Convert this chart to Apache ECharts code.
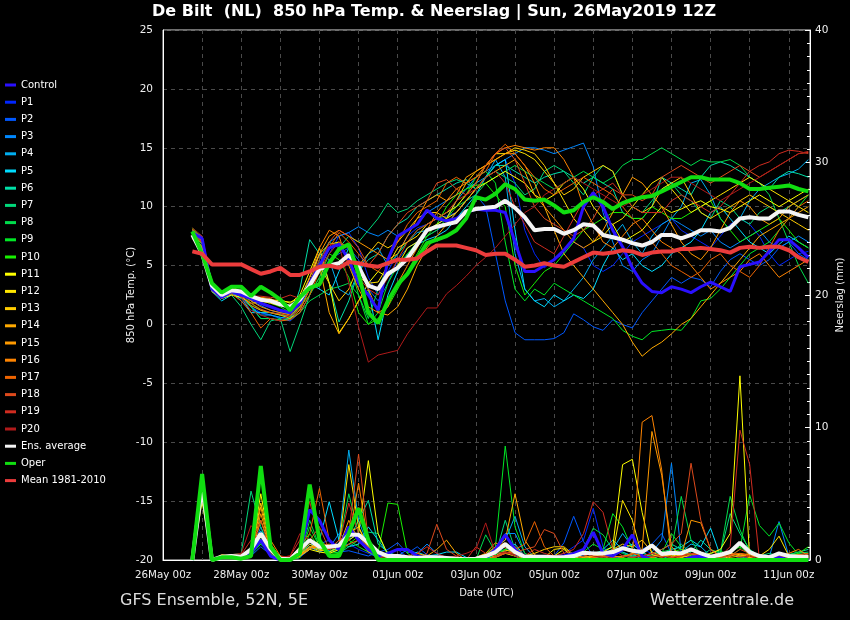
<!DOCTYPE html>
<html><head><meta charset="utf-8">
<script src="https://cdn.jsdelivr.net/npm/echarts/dist/echarts.min.js"></script>
<style>html,body{margin:0;padding:0;background:#000;overflow:hidden;}#c{width:850px;height:620px;}</style>
</head><body><div id="c"></div>
<script>
const FONT = "'DejaVu Sans',sans-serif";
// forecast lead times: first point 26May 18z (hours since 26May 00z), every 6 h, 64 points
const firstHour = 18, stepHours = 6, nPoints = 64;
const dateLabels = ['26May 00z','28May 00z','30May 00z','01Jun 00z','03Jun 00z','05Jun 00z','07Jun 00z','09Jun 00z','11Jun 00z'];

// ---- 850 hPa temperature (°C) ----
const tempControl = [7.8,7.3,3.0,2.3,2.8,2.5,2.2,1.8, 1.5,1.2,1.0,1.8,3.5,5.0,6.5,6.8, 5.5,3.5,2.5,1.2,5.5,7.5,8.0,8.5, 9.7,9.0,8.8,9.0,9.5,9.8,9.7,9.7, 9.5,7.0,4.5,4.5,5.0,5.5,6.3,7.3, 10.0,11.2,10.0,8.0,6.6,4.8,3.5,2.8, 2.7,3.2,3.0,2.7,3.2,3.6,3.2,2.8, 4.9,5.1,5.3,6.2,7.2,7.2,6.5,5.7];
const tempP1 = [7.6,6.8,3.0,2.2,2.6,2.3,1.5,1.0, 0.8,0.6,0.5,1.5,3.0,4.5,6.0,7.5, 7.8,6.5,4.0,2.5,4.5,6.0,7.5,8.2, 8.5,9.0,9.2,9.5,10.5,11.5,12.5,13.5, 14.0,12.0,8.0,6.0,4.8,5.5,6.0,7.0, 6.5,5.0,4.5,5.0,6.0,7.0,7.5,8.0, 8.5,9.0,8.0,7.5,7.0,6.5,7.5,8.5, 9.0,8.5,7.5,6.0,5.0,5.5,6.0,6.2];
const tempP2 = [7.8,7.4,3.2,2.5,2.8,2.0,1.2,1.0, 0.8,0.5,0.3,1.0,2.5,4.0,5.5,6.0, 6.5,5.5,3.0,2.0,3.5,5.5,6.5,7.0, 7.5,8.0,8.5,9.5,10.5,11.0,10.0,6.0, 2.0,-0.7,-1.3,-1.3,-1.3,-1.2,-0.7,0.9, 0.4,-0.2,-0.5,0.4,0.0,-0.3,1.0,2.0, 3.0,4.0,3.5,4.0,3.8,3.2,4.5,5.5, 6.0,5.5,5.0,5.5,6.5,7.0,6.0,5.5];
const tempP3 = [8.0,7.5,3.3,2.6,3.0,2.8,2.0,1.6, 1.2,1.0,0.9,2.0,3.5,5.5,7.0,7.5, 7.8,8.3,7.8,7.5,8.0,7.5,8.0,8.5, 9.5,10.0,10.5,11.0,11.5,12.5,13.0,13.5, 14.0,14.5,15.0,15.0,14.8,14.5,14.8,15.1, 15.4,13.4,9.5,7.0,5.0,4.5,5.5,6.0, 7.5,9.0,8.5,8.0,7.5,8.0,7.0,6.5, 7.0,7.5,8.0,7.0,6.5,7.0,7.5,7.0];
const tempP4 = [7.7,7.0,3.0,2.4,2.8,2.5,1.5,0.8, 0.8,0.6,0.5,1.8,4.0,6.0,5.5,3.0, 2.5,4.5,6.0,6.5,5.0,6.0,7.0,7.8, 8.0,8.5,9.0,10.5,11.5,12.0,12.5,14.0, 12.5,6.0,3.0,2.0,2.2,1.5,2.0,3.0, 4.0,5.5,6.5,7.5,8.5,7.0,6.0,7.5, 8.5,9.0,10.0,12.0,12.3,11.0,9.0,8.0, 9.0,10.5,11.5,12.0,12.5,12.8,13.2,14.0];
const tempP5 = [7.5,6.5,2.8,2.0,2.5,2.3,1.0,1.0, 1.0,0.8,0.7,1.5,3.5,3.0,2.5,4.5, 6.5,5.0,3.0,-1.3,2.5,4.5,6.0,6.8, 7.2,7.5,8.0,9.0,10.0,11.0,12.5,13.5, 14.0,8.0,3.0,2.0,1.5,2.5,2.0,2.5, 2.2,3.0,5.0,6.5,5.5,6.0,5.0,4.5, 5.0,6.0,6.5,7.0,8.0,9.5,10.0,9.0, 8.0,7.0,6.5,6.0,6.8,7.5,7.0,6.5];
const tempP6 = [7.9,7.0,3.2,2.5,2.6,2.2,1.5,0.5, 0.5,0.3,0.5,3.0,7.2,6.0,3.5,0.2, 2.0,4.5,5.5,6.0,7.5,8.5,9.0,10.0, 10.5,11.0,11.5,12.0,12.3,11.5,12.5,13.5, 13.5,13.0,12.5,12.0,12.5,12.8,13.0,12.5, 12.0,12.5,12.0,11.5,9.5,9.0,9.0,10.0, 12.5,12.0,11.5,11.0,12.5,13.5,13.8,13.5, 13.0,12.5,12.0,11.5,12.5,13.0,12.8,12.5];
const tempP7 = [8.0,7.2,3.3,2.6,2.5,1.5,0.0,-1.3, 0.3,0.5,-2.3,0.0,2.5,5.5,7.0,6.5, 7.5,7.0,8.0,9.0,10.3,9.5,9.8,10.5, 11.0,11.5,12.0,12.3,12.0,11.5,12.5,13.0, 12.5,12.0,11.0,11.5,13.0,13.5,13.0,12.0, 11.0,12.5,13.5,13.0,11.0,10.0,9.5,10.5, 11.5,12.0,11.0,10.5,9.5,9.0,10.5,10.0, 9.0,8.5,9.5,10.0,9.5,10.0,10.5,11.0];
const tempP8 = [7.8,7.0,3.0,2.7,3.0,2.5,1.5,0.5, 0.5,0.4,0.5,1.0,2.0,2.5,3.0,3.2, 3.5,2.5,0.5,3.0,5.0,6.0,7.0,8.0, 8.5,9.0,9.5,10.0,10.5,11.0,12.0,12.5, 13.0,13.5,13.0,12.5,12.0,11.5,12.0,12.5, 13.0,12.5,12.0,12.5,13.5,14.0,14.0,14.5, 15.0,14.5,14.0,13.5,14.0,13.8,13.8,14.0, 13.5,12.5,12.0,11.0,9.0,7.0,5.0,3.5];
const tempP9 = [7.7,6.8,3.1,2.4,2.9,2.6,1.8,1.2, 1.0,0.8,0.6,1.5,3.0,5.0,6.5,7.0, 5.5,2.5,0.0,1.0,3.5,5.0,6.0,7.0, 7.5,8.0,9.0,10.0,11.0,12.5,13.0,12.0, 7.0,3.0,2.0,3.0,2.5,3.5,3.0,2.5, 2.0,1.5,1.0,0.5,-0.5,-1.0,-1.3,-0.6, -0.5,-0.4,-0.5,0.5,2.0,2.2,3.0,4.0, 5.0,6.0,6.5,7.0,8.0,9.0,10.0,11.0];
const tempP10 = [8.2,7.3,3.5,2.8,3.2,2.8,2.5,2.0, 1.8,1.5,1.0,1.5,2.5,4.0,6.0,5.5, 4.0,1.0,0.0,0.5,1.5,3.0,4.5,6.0, 7.5,8.5,10.0,11.0,11.5,11.8,12.0,11.0, 10.0,5.0,2.5,3.5,4.5,5.0,6.0,7.0, 8.0,8.5,9.0,9.5,9.5,9.0,9.0,10.0, 9.5,9.0,9.0,9.5,10.0,10.5,9.0,8.0, 7.0,7.5,8.0,8.5,9.0,8.0,7.0,6.5];
const tempP11 = [7.4,6.3,2.8,2.2,2.5,2.3,1.8,1.9, 2.0,2.1,1.8,2.5,4.5,6.5,3.5,-0.7, 0.5,2.0,3.5,4.5,4.0,5.0,6.5,7.0, 8.0,8.5,9.0,9.5,10.5,11.5,12.0,12.5, 13.0,12.5,12.0,11.0,10.5,11.0,12.0,12.5, 11.5,10.0,9.0,8.5,7.0,7.5,8.0,9.0, 10.0,9.5,9.8,10.2,10.5,10.0,9.8,9.5, 10.0,10.5,11.0,10.5,10.0,10.5,11.0,11.5];
const tempP12 = [7.6,6.6,3.2,2.5,2.9,2.6,2.0,2.2, 2.1,2.0,1.9,2.2,4.0,6.0,6.8,7.0, 6.5,4.0,3.5,3.6,5.0,6.5,7.0,7.5, 8.5,9.0,9.5,10.0,11.0,12.0,13.5,14.5, 14.5,14.8,14.5,14.0,13.0,12.0,10.5,9.0, 8.0,7.0,7.5,8.5,9.0,10.0,11.0,12.0, 12.5,11.5,10.5,9.5,10.0,10.5,11.0,11.5, 12.0,12.5,12.0,11.5,11.0,10.5,10.0,9.5];
const tempP13 = [7.3,6.2,2.9,2.3,2.7,2.4,2.2,2.0, 1.8,1.6,1.4,2.0,3.5,5.0,3.5,2.0, 3.0,5.0,6.0,7.0,6.5,7.0,8.0,9.0, 9.5,9.5,9.0,10.5,12.0,13.0,13.5,14.0, 14.5,15.0,14.8,14.5,13.5,12.0,11.0,11.5, 12.5,13.0,13.5,13.0,11.0,10.0,9.5,10.0, 11.5,12.0,12.5,11.0,9.5,9.0,9.5,10.0, 10.5,11.0,10.5,10.0,9.5,9.0,8.5,8.0];
const tempP14 = [7.5,6.5,3.0,2.4,3.1,2.5,1.6,1.2, 1.0,0.8,0.5,1.2,3.0,5.0,1.0,-0.8, 0.5,2.0,3.0,1.0,0.8,1.5,3.0,5.0, 6.5,7.5,8.5,9.5,10.5,11.5,12.5,13.0, 13.5,14.0,13.0,11.0,10.0,8.0,6.0,5.0, 4.0,3.0,2.0,1.0,0.0,-1.5,-2.7,-2.0, -1.5,-0.8,0.0,0.5,1.5,2.5,3.5,4.5, 5.5,6.5,7.5,8.0,8.5,9.0,9.5,10.0];
const tempP15 = [7.6,6.9,3.3,2.6,3.3,2.7,2.3,2.3, 2.2,1.8,1.5,2.0,3.5,6.0,7.5,8.0, 7.5,7.0,6.5,6.0,5.5,6.0,7.5,9.0, 10.5,11.0,10.5,11.0,12.5,13.0,13.5,14.0, 14.5,14.5,13.5,12.0,10.0,9.0,8.0,7.0, 6.5,7.0,8.0,9.5,11.0,12.5,12.0,11.0, 10.0,8.5,7.0,6.0,5.5,6.5,8.0,9.5, 10.5,10.0,9.0,8.5,9.0,10.0,10.5,11.0];
const tempP16 = [8.1,7.2,3.4,2.7,3.2,2.6,2.0,1.5, 1.2,1.0,0.8,1.5,4.0,6.5,8.0,7.5, 5.0,3.0,1.5,1.0,1.5,3.5,5.0,6.5, 8.0,9.5,10.5,11.5,12.0,12.5,13.5,14.5, 15.0,15.2,15.0,14.8,15.0,15.0,14.0,12.5, 10.0,8.5,7.0,6.5,7.5,8.5,9.0,8.0, 7.0,6.5,6.0,5.0,4.0,3.0,3.5,4.0, 4.5,5.5,6.0,5.0,4.0,4.5,5.0,5.5];
const tempP17 = [7.8,7.1,3.1,2.3,2.6,2.0,1.0,-0.3, 0.5,0.3,0.4,1.0,2.5,4.5,6.5,7.8, 7.0,6.0,5.0,4.5,5.5,7.0,8.5,9.5, 10.0,10.5,12.0,12.5,12.0,12.5,13.0,14.5, 15.3,14.5,13.5,12.5,11.5,11.0,11.5,12.0, 12.5,12.0,11.5,11.0,10.0,9.0,8.0,7.0, 6.0,5.0,4.5,4.0,4.5,5.5,6.0,5.0, 4.5,4.0,5.0,6.5,8.0,9.0,10.0,10.5];
const tempP18 = [8.0,7.4,3.2,2.4,2.8,2.4,1.8,1.3, 1.0,0.9,0.7,1.3,3.0,5.0,7.0,8.0, 7.5,6.5,5.0,6.0,7.5,8.5,9.5,10.0, 10.5,12.0,12.3,11.5,11.0,12.0,13.5,14.5, 15.0,14.0,12.0,10.0,9.0,8.5,8.0,7.5, 8.0,9.0,10.5,11.5,11.0,11.0,10.5,11.0, 12.5,13.0,13.5,13.0,12.5,12.0,12.5,13.0, 13.5,13.0,12.5,13.0,13.5,14.0,14.5,14.6];
const tempP19 = [7.7,7.0,3.1,2.5,3.0,2.7,2.4,2.4, 2.3,2.2,2.5,2.2,3.0,4.5,6.0,7.0, 6.5,4.0,3.0,2.5,4.0,5.5,7.0,8.0, 8.5,9.0,9.5,10.5,11.0,11.5,12.5,13.0, 12.0,10.0,8.5,7.0,6.5,6.0,7.5,9.0, 10.5,11.0,11.5,12.0,11.0,10.0,9.5,9.5, 9.5,10.5,11.0,10.5,10.0,9.5,10.0,11.0, 12.0,13.0,13.5,13.8,14.5,14.8,14.7,14.5];
const tempP20 = [8.2,7.5,3.4,2.6,2.9,2.3,1.2,0.8, 0.5,0.3,0.8,2.0,3.5,5.5,6.8,6.8, 3.5,-0.2,-3.2,-2.6,-2.4,-2.2,-0.8,0.3, 1.4,1.4,2.6,3.3,4.1,5.0,5.7,6.5, 7.5,8.5,9.5,10.0,11.0,11.5,12.0,12.5, 12.0,11.5,11.0,10.5,10.0,10.5,11.0,11.5, 12.0,12.5,12.5,12.0,11.5,11.0,10.5,11.0, 11.5,12.0,12.5,13.0,13.5,14.0,14.5,14.7];
const tempEnsAvg = [7.6,6.0,3.3,2.5,2.9,2.8,2.4,2.1, 2.0,1.7,1.5,2.1,3.3,4.7,5.0,5.2, 5.9,4.9,3.3,3.0,4.3,4.8,5.6,6.8, 8.0,8.3,8.5,8.7,9.6,9.8,9.9,10.0, 10.5,9.9,9.1,8.0,8.1,8.1,7.7,8.0, 8.5,8.4,7.6,7.4,7.2,6.9,6.7,7.0, 7.6,7.6,7.3,7.6,8.0,8.0,7.9,8.2, 9.0,9.1,9.0,9.0,9.6,9.6,9.3,9.1];
const tempOper = [7.9,6.0,3.5,2.7,3.2,3.2,2.4,3.2, 2.7,2.1,1.2,2.3,3.1,3.4,5.2,6.4, 6.8,4.3,1.0,0.1,2.0,3.4,4.3,5.6, 6.9,7.2,7.5,8.0,9.0,10.8,10.6,11.1, 11.9,11.5,10.6,10.5,10.6,10.1,9.5,9.7, 10.4,10.8,10.4,9.8,10.3,10.6,10.8,10.9, 11.3,11.7,12.1,12.5,12.5,12.3,12.3,12.3, 12.0,11.5,11.5,11.6,11.7,11.8,11.5,11.3];
const tempMean = [6.2,6.0,5.1,5.1,5.1,5.1,4.7,4.3, 4.5,4.8,4.2,4.2,4.5,4.9,5.0,4.8, 5.3,5.2,5.0,4.9,5.2,5.5,5.5,5.6, 6.2,6.7,6.7,6.7,6.5,6.3,5.9,6.0, 6.0,5.5,4.9,5.0,5.2,5.0,4.9,5.3, 5.7,6.1,6.0,6.1,6.3,6.2,5.9,6.1, 6.2,6.2,6.4,6.4,6.5,6.4,6.3,6.1, 6.5,6.6,6.5,6.6,6.6,6.3,5.7,5.3];

// ---- precipitation (mm / 6 h) ----
const rainControl = [0,5.5,0,0.2,0.3,0.1,0.5,1.5, 0.3,0,0,0.5,3.8,3.0,1.5,0.8, 2.5,1.5,0.8,0.3,0.5,0.8,0.8,0.3, 0.1,0,0,0,0,0,0.2,0.8, 1.9,0.8,0.2,0,0,0,0.3,0.5, 0.8,2.1,0.5,0.3,0.8,1.9,0.3,0, 0,0,0,0.2,0.3,0,0,0, 0,0,0,0,0.2,0,0,0.1];
const rainP1 = [0,5.8,0,0.3,0.2,0.2,0.6,1.2, 0.5,0,0,0.3,1.5,0.8,0.6,1.0, 1.2,0.8,0.5,0.2,0.4,0.8,0.2,0, 0,0,0,0,0,0,0.3,0.5, 1.0,0.4,0,0,0,0.2,0.5,1.0, 1.5,3.9,1.0,0.3,0,0.2,0.8,0.5, 0.3,0,0,0.2,0,0,0,0.3, 0.5,0,0,0,0,0,0.2,0];
const rainP2 = [0,5.0,0,0.2,0.4,0.2,0.3,1.0, 0.4,0,0,0.2,0.8,1.2,1.5,0.6, 0.7,0.5,0.3,0.6,0.8,1.3,0.5,1.0, 0.4,0,0,0,0,0,0,0.4, 1.2,0.6,0.2,0,0,0.3,1.3,3.3, 1.4,0.3,0,0.5,0.6,0.3,0.8,1.2, 2.0,0.5,0,0,0.2,0,0,0, 0.2,0.3,0,0,0,0,0,0];
const rainP3 = [0,5.5,0,0.1,0.3,0.2,0.5,2.5, 0.8,0.1,0,0.4,1.0,0.6,0.9,2.0, 1.5,2.0,0.6,0.2,0,0.3,0.8,0.5, 1.2,0.5,0,0,0,0,0,0.6, 2.0,2.0,0.5,0,0,0,0.2,0.4, 0.3,0.6,0.2,0,0.3,0.5,0,0.6, 1.5,7.3,0.5,0,0,0,0,0, 0,0,0,0.2,2.9,0.3,0,0];
const rainP4 = [0,5.2,0,0.2,0.3,0.3,0.4,2.2, 0.6,0,0,0.2,1.2,1.0,0.7,1.5, 8.3,3.0,1.0,0.3,0.5,0.2,0,0, 0,0,0,0,0,0.2,0.4,1.0, 1.5,3.3,1.0,0.2,0,0,0,0, 0.3,0.2,0.5,0.8,2.0,1.0,0.3,0, 0.5,0.3,0.6,1.2,1.0,0.3,0,0, 0,0,0,0,0.5,0.2,0,0];
const rainP5 = [0,5.6,0,0.3,0.2,0.1,0.3,1.8, 0.5,0,0,0.3,0.9,1.5,4.4,1.5, 1.0,1.2,2.5,1.5,0.5,0.3,0.2,0.6, 0.3,0.4,0.6,0.6,0.2,0,0,0.3, 0.8,1.2,0.3,0,0,0,0,0.2, 0.5,0.3,0.8,1.5,0.8,1.2,0.6,0.2, 0.4,0.8,1.0,1.5,1.0,2.4,0.3,0, 0.2,0,0,0,0.5,0.4,0,0];
const rainP6 = [0,5.9,0,0.2,0.2,0.3,0.8,1.5, 0.6,0,0,0.4,1.0,0.8,0.6,0.9, 1.5,3.0,4.5,1.2,0.6,0.3,0,0, 0,0,0,0,0,0,0.2,0.5, 0.6,0.3,0,0,0,0,0,0, 0,0.5,0.7,1.0,0.6,0.3,0.2,0.4, 0.8,1.2,0.8,0.6,1.5,0.8,0.3,0.5, 0.3,0,0,0,0.3,0.4,0.6,0.8];
const rainP7 = [0,6.1,0,0.2,0.4,0.5,5.2,2.5, 0.6,0.1,0,0.3,1.5,1.2,0.8,0.5, 1.0,1.5,2.1,2.0,0.3,0.2,0,0, 0,0,0,0,0,0,0,0.4, 3.0,0.8,0.2,0,0,0,0,0, 0,0.3,0.2,0,0,0.3,0.5,0.3, 0,0.5,1.2,0.5,0.3,0.8,0.5,3.5, 2.0,0.8,0.3,0.5,0.3,0.2,0.5,0.6];
const rainP8 = [0,5.7,0,0.3,0.3,0.2,0.6,1.3, 0.7,0.2,0,0.2,3.0,1.0,0.6,1.2, 5.0,2.0,0.8,0.3,0.2,0,0,0, 0,0,0,0,0,0,1.9,0.6, 0.8,1.0,0.3,0,0,0,0,0.3, 0.8,2.4,1.9,0.8,0.5,0.2,0,0.3, 0.6,0.8,4.8,1.5,0.4,0.2,0.5,4.8, 2.3,0.6,0.3,0.2,0.3,0.4,0.6,0.5];
const rainP9 = [0,6.2,0,0.2,0.3,0.2,0.4,1.2, 0.5,0,0,0.3,2.5,1.0,0.5,0.6, 1.5,1.0,0.6,0.2,0,0,0,0, 0,0,0,0,0,0,0.5,1.0, 8.6,2.5,0.5,0.2,0,0,0,0, 0.6,1.2,0.8,3.5,2.5,0.8,0.3,0.2, 0.5,2.0,1.0,0.3,0.3,0.5,0.7,0.3, 0.8,4.9,2.6,1.8,2.8,1.3,0.4,0.3];
const rainP10 = [0,6.4,0,0.3,0.2,0.2,0.5,1.6, 0.4,0,0,0.2,2.0,0.9,0.4,0.5, 1.2,1.8,1.0,0.6,4.3,4.2,0.5,0, 0,0,0,0,0,0,0.2,0.4, 0.8,0.5,0,0,0,0,0,0, 0,0.2,0.4,0.3,0.2,0,0,0.2, 0.4,0.6,0.8,0.3,0,0,0.2,0.6, 1.0,0.4,0.2,0,0.2,0.3,0.5,1.0];
const rainP11 = [0,4.4,0,0.2,0.3,0.3,0.5,5.0, 1.0,0.1,0,0.3,0.8,0.6,0.5,0.8, 1.5,2.0,7.5,2.0,0.4,0.2,0,0, 0,0,0,0,0,0,0,0.2, 0.5,0.3,0,0,0,0.3,0.8,0.2, 0,0.3,0.6,1.0,7.2,7.6,3.6,0.4, 0.2,0.5,0.3,0.2,0.3,0.5,0.8,2.0, 13.9,0,0.2,0.3,0.2,0,0,0.2];
const rainP12 = [0,4.8,0,0.3,0.2,0.2,0.4,3.0, 0.9,0.2,0,0.5,1.2,0.8,0.6,1.0, 7.2,2.5,1.0,0.5,0.3,0,0,0, 0,0,0,0,0,0,0,0.3, 0.6,0.5,0,0,0.2,0.8,0.9,0.3, 0,0.2,0.3,0.5,4.5,3.0,0.3,0.2, 0.3,0.4,0.2,0,0,0.2,0.3,0.5, 0.4,0.2,0.3,0.8,1.8,0.3,0,0];
const rainP13 = [0,5.0,0,0.4,0.3,0.2,0.6,4.3, 1.2,0.2,0,0.4,1.0,0.7,0.8,1.2, 2.0,2.5,0.8,0.4,0.2,0,0,0, 0,0,0,0,0,0,0,0.3, 0.7,0.8,0.3,0.5,0.8,1.0,1.0,0.4, 0.2,0.3,0.4,0.8,1.2,1.0,1.5,0.6, 0.3,0.2,0.4,0.5,0.3,0,0,0.3, 0.5,0.2,0,0,0,0.2,0.3,0.2];
const rainP14 = [0,5.3,0,0.3,0.4,0.3,0.5,4.0, 0.8,0.1,0,0.3,0.8,1.5,0.9,1.0, 3.0,1.5,0.6,0.4,0.3,0.2,0,0.5, 0.3,0.8,1.5,0.5,0,0,0.2,1.0, 1.5,5.0,1.5,0.4,0,0,0,0, 0.2,0.3,0.5,0.3,0.2,0.5,0.3,0.2, 0.5,0.3,0.2,0.4,0.3,0.2,0,0.2, 0.3,0.5,0.2,0,0,0,0.2,0.3];
const rainP15 = [0,5.1,0,0.2,0.3,0.2,0.4,3.5, 0.9,0.2,0,0.3,1.0,1.0,1.2,0.8, 2.5,1.8,0.9,0.3,0.2,0,0,0, 0,0,0,0,0,0.2,0.5,1.3, 0.9,1.0,0.3,0,0,0,0,0, 0.2,0.3,0.2,0.5,0.8,0.6,0.8,9.7, 6.4,1.0,0.3,3.0,2.8,0.8,0.3,0.5, 0.3,0.2,0,0,0.2,0.3,0.4,0.3];
const rainP16 = [0,5.4,0,0.3,0.2,0.2,0.5,2.0, 1.5,0.3,0,0.4,0.9,1.0,0.8,1.5, 1.5,5.8,1.2,0.5,0.2,0,0,0, 0,0,0,0,0,0,0.4,1.0, 1.3,0.6,0.2,0,0,0,0,0, 0,0.2,0.3,0.2,0.3,0.4,10.4,10.9, 6.8,0.2,0.3,0.5,0.4,0.3,0.2,0.3, 0.5,0.4,0.2,0.3,0.3,0.5,0.8,0.3];
const rainP17 = [0,5.8,0,0.2,0.3,0.3,0.6,1.5, 1.0,0.3,0.2,1.0,2.0,5.4,1.5,0.8, 1.2,1.5,1.0,0.4,0.2,0,0,0, 0,0,0,0,0,0,0,0.3, 0.5,0.8,1.2,2.9,1.0,0.3,0,0, 0,0.2,0.3,0,0.2,0.5,0.3,0.2, 0,0,0.3,0.5,0.3,0.2,0.3,0.4, 0.5,0.3,0.2,0,0,0.2,0.4,0.5];
const rainP18 = [0,6.0,0,0.3,0.3,0.2,0.8,3.0, 0.6,0.1,0,0.5,1.5,2.5,0.8,1.5, 2.0,8.0,1.5,0.5,0.3,0.2,0,0, 0.5,2.7,0.8,0.3,0,0,0,0.2, 0.5,0.6,0.8,1.0,2.3,2.0,0.5,0, 0.3,0.5,0.3,0.2,0,0.2,0.3,0.5, 0.8,1.2,2.0,7.3,3.0,0.8,0.2,0.3, 0.8,0.5,0.2,0,0,0.2,0.3,0.2];
const rainP19 = [0,6.1,0,0.2,0.3,0.4,1.5,2.0, 0.8,0.2,0.3,1.5,4.4,1.5,0.9,1.2, 4.3,2.0,0.8,0.3,0,0.2,0.3,0.5, 1.0,0.5,0.2,0,0,1.0,0.5,0.3, 0.6,0.4,0.3,0.8,0.5,0.3,0.5,0.8, 2.0,4.4,3.6,0.8,0.3,0.2,0.3,0.5, 0.3,0.2,0.3,0.5,0.4,0.2,0.3,1.0, 9.8,7.2,0,0.2,0.3,0.2,0.3,0.4];
const rainP20 = [0,5.5,0,0.2,0.4,0.5,2.6,1.8, 0.5,0.2,0.3,2.0,1.5,1.0,0.8,1.0, 1.5,4.0,1.5,0.6,0.3,0.2,0.2,0, 0,0,0.2,0.3,0.5,0.8,2.8,0.5, 0.6,0.3,0,0,0,0,0.2,0.3, 0.5,0.3,0.2,0,0,0,0.2,0.3, 0.2,0,0,0.2,0.3,0,0,0, 0.2,0.3,0,0,0,0,0,0];
const rainEnsAvg = [0,5.6,0,0.25,0.3,0.25,0.8,2.0, 0.8,0.1,0.05,0.8,1.5,1.0,1.0,1.1, 1.9,1.9,1.3,0.6,0.3,0.3,0.2,0.15, 0.2,0.2,0.15,0.1,0.05,0.1,0.3,0.6, 1.2,0.6,0.25,0.25,0.25,0.2,0.2,0.3, 0.55,0.5,0.5,0.6,0.9,0.7,0.6,1.1, 0.45,0.55,0.5,0.8,0.5,0.25,0.4,0.6, 1.3,0.6,0.3,0.2,0.5,0.3,0.25,0.25];
const rainOper = [0,6.5,0,0.2,0.2,0.1,0.3,7.1, 1.0,0,0,0.5,5.7,1.5,0.3,0.3, 2.0,3.9,1.5,0,0,0,0,0, 0,0,0,0,0,0,0,0, 0,0,0,0,0,0,0,0, 0,0,0,0,0,0,0,0, 0,0,0,0,0,0,0,0, 0,0,0,0,0,0,0,0];

const memberNames = ['Control','P1','P2','P3','P4','P5','P6','P7','P8','P9','P10','P11','P12','P13','P14','P15','P16','P17','P18','P19','P20'];
const memberTemps = [tempControl,tempP1,tempP2,tempP3,tempP4,tempP5,tempP6,tempP7,tempP8,tempP9,tempP10,tempP11,tempP12,tempP13,tempP14,tempP15,tempP16,tempP17,tempP18,tempP19,tempP20];
const memberRains = [rainControl,rainP1,rainP2,rainP3,rainP4,rainP5,rainP6,rainP7,rainP8,rainP9,rainP10,rainP11,rainP12,rainP13,rainP14,rainP15,rainP16,rainP17,rainP18,rainP19,rainP20];
const memberColors = ['#2a10ff','#0026ff','#0058ff','#0088ff','#00aef0','#00dcff','#00e0a8','#00d87a','#00dc4c','#00e826','#18f000','#ffff00','#ffe600','#ffcc00','#ffaa00','#ff9a00','#ff8400','#ee6400','#de4a1c','#d02c20','#b01a1a'];

const hours = Array.from({length:nPoints},(_, i)=>firstHour + stepHours*i);
const pairs = arr => arr.map((v,i)=>[hours[i], v]);

const series = [];
function addLine(name, color, data, axis, width, z){
  series.push({name, type:'line', yAxisIndex:axis, data:pairs(data), showSymbol:false, symbol:'none',
    lineStyle:{color, width}, itemStyle:{color}, z, animation:false, clip:true});
}
memberNames.forEach((n,k)=>{
  if(k===0) return;
  addLine(n, memberColors[k], memberTemps[k], 0, 1, 2);
  addLine(n, memberColors[k], memberRains[k], 1, 1, 2);
});
addLine('Control', memberColors[0], tempControl, 0, 3, 3);
addLine('Control', memberColors[0], rainControl, 1, 3, 3);
addLine('Ens. average', '#f4f4f4', tempEnsAvg, 0, 4, 4);
addLine('Ens. average', '#f4f4f4', rainEnsAvg, 1, 4, 4);
addLine('Oper', '#10dd10', tempOper, 0, 4, 5);
addLine('Oper', '#10dd10', rainOper, 1, 4, 5);
addLine('Mean 1981-2010', '#ec3c3c', tempMean, 0, 4, 5);

const legendNames = memberNames.concat(['Ens. average','Oper','Mean 1981-2010']);
const gridLine = {show:true, lineStyle:{color:'#4a4a4a', type:[4,4], width:1}};

const chart = echarts.init(document.getElementById('c'), null, {renderer:'canvas', width:850, height:620});
chart.setOption({
  backgroundColor:'#000',
  animation:false,
  textStyle:{fontFamily:FONT},
  grid:{left:163, top:30, width:647, height:530, containLabel:false, outerBoundsMode:'none',
    show:true, borderColor:'#dddddd', borderWidth:1, backgroundColor:'#000'},
  legend:{orient:'vertical', left:5, top:79, padding:0, itemWidth:11, itemHeight:3, itemGap:5.2, icon:'rect', selectedMode:false,
    textStyle:{color:'#ffffff', fontSize:10, fontFamily:FONT, lineHeight:12}, data:legendNames},
  xAxis:{type:'value', min:0, max:397, interval:24,
    axisLine:{show:true, onZero:false, lineStyle:{color:'#ffffff'}}, axisTick:{show:false},
    axisLabel:{color:'#eeeeee', fontSize:10.3, fontFamily:FONT, margin:10,
      formatter:v => (v % 48 === 0 && dateLabels[v/48]) ? dateLabels[v/48] : ''},
    splitLine:gridLine, nameMoveOverlap:false,
    name:'Date (UTC)', nameLocation:'middle', nameGap:28, nameTextStyle:{color:'#eeeeee', fontSize:10, fontFamily:FONT}},
  yAxis:[
    {type:'value', min:-20, max:25, interval:5, position:'left',
     axisLine:{show:true, onZero:false, lineStyle:{color:'#ffffff'}}, axisTick:{show:false},
     axisLabel:{color:'#eeeeee', fontSize:10.5, fontFamily:FONT, margin:10},
     splitLine:gridLine, nameMoveOverlap:false,
     name:'850 hPa Temp. (°C)', nameLocation:'middle', nameGap:27, nameTextStyle:{color:'#eeeeee', fontSize:10, fontFamily:FONT}},
    {type:'value', min:0, max:40, interval:10, position:'right',
     axisLine:{show:true, onZero:false, lineStyle:{color:'#ffffff'}},
     axisTick:{show:true, inside:true, length:5, lineStyle:{color:'#ffffff'}},
     minorTick:{show:true, splitNumber:10, length:3, lineStyle:{color:'#ffffff'}},
     axisLabel:{color:'#eeeeee', fontSize:10.5, fontFamily:FONT, margin:5},
     splitLine:{show:false}, nameMoveOverlap:false,
     name:'Neerslag (mm)', nameLocation:'middle', nameGap:25, nameTextStyle:{color:'#eeeeee', fontSize:10, fontFamily:FONT}}
  ],
  graphic:[
    {type:'text', left:152, top:4, style:{text:'De Bilt  (NL)  850 hPa Temp. & Neerslag | Sun, 26May2019 12Z', fill:'#ffffff', font:"bold 16px 'DejaVu Sans',sans-serif"}},
    {type:'text', left:120, top:593, style:{text:'GFS Ensemble, 52N, 5E', fill:'#dddddd', font:"16px 'DejaVu Sans',sans-serif"}},
    {type:'text', left:650, top:593, style:{text:'Wetterzentrale.de', fill:'#dddddd', font:"16px 'DejaVu Sans',sans-serif"}}
  ],
  series
});
</script></body></html>
